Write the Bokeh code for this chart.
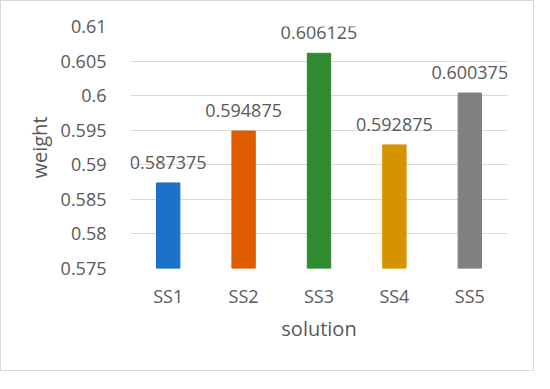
from bokeh.plotting import figure
from bokeh.models import ColumnDataSource, LabelSet, Range1d, FixedTicker
from bokeh.core.properties import value
from bokeh.embed import file_html
from bokeh.resources import INLINE

categories = ["SS1", "SS2", "SS3", "SS4", "SS5"]
weights = [0.587375, 0.594875, 0.606125, 0.592875, 0.600375]
labels = ["0.587375", "0.594875", "0.606125", "0.592875", "0.600375"]
colors = ["#1c72c8", "#e05c00", "#2f8a30", "#d69300", "#808080"]
y_ticks = [0.575, 0.58, 0.585, 0.59, 0.595, 0.6, 0.605, 0.61]
y_tick_labels = ["0.575", "0.58", "0.585", "0.59", "0.595", "0.6", "0.605", "0.61"]

FONT = "Open Sans"
TXT = "#595959"

src = ColumnDataSource(dict(cat=categories, w=weights, lab=labels, col=colors,
                            bottom=[y_ticks[0]] * len(weights)))

p = figure(x_range=categories, y_range=Range1d(0.575, 0.61), width=534, height=371,
           output_backend="svg", toolbar_location=None)
p.min_border_left = 129
p.min_border_right = 28
p.min_border_top = 25
p.min_border_bottom = 104
p.outline_line_color = None
p.border_fill_color = "white"
p.background_fill_color = "white"

p.vbar(x="cat", top="w", bottom="bottom", width=0.31, color="col", source=src)

p.add_layout(LabelSet(x="cat", y="w", text="lab", source=src, text_align="center",
                      text_baseline="bottom", y_offset=14, text_font=value(FONT),
                      text_font_size=value("18px"), text_color=value(TXT)))

p.yaxis.ticker = FixedTicker(ticks=y_ticks)
p.yaxis.major_label_overrides = {t: l for t, l in zip(y_ticks, y_tick_labels)}
for ax in (p.xaxis, p.yaxis):
    ax.axis_line_color = None
    ax.major_tick_line_color = None
    ax.minor_tick_line_color = None
    ax.major_label_text_font = FONT
    ax.major_label_text_font_size = "18px"
    ax.major_label_text_color = TXT
    ax.axis_label_text_font = FONT
    ax.axis_label_text_font_size = "20px"
    ax.axis_label_text_color = TXT
    ax.axis_label_text_font_style = "normal"

p.yaxis.axis_label = "weight"
p.xaxis.axis_label = "solution"
p.yaxis.major_label_standoff = 18
p.xaxis.major_label_standoff = 9
p.yaxis.axis_label_standoff = 5
p.xaxis.axis_label_standoff = 4

p.xgrid.grid_line_color = None
p.ygrid.grid_line_color = "#d9d9d9"
p.ygrid.grid_line_width = 1

p.styles = {"border": "1px solid #d9d9d9"}

html = file_html(p, INLINE)
open("out.html", "w").write(html)
